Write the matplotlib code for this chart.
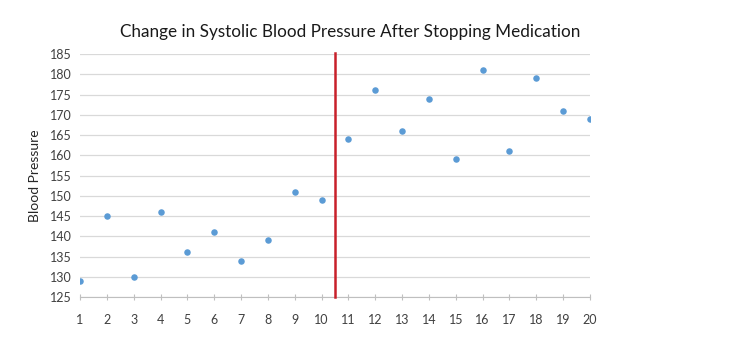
import matplotlib
matplotlib.use("Agg")
import matplotlib.pyplot as plt
from matplotlib.ticker import MultipleLocator

plt.rcParams['font.family'] = ['Lato', 'DejaVu Sans']

days = list(range(1, 21))
pressure = [129, 145, 130, 146, 136, 141, 134, 139, 151, 149,
            164, 176, 166, 174, 159, 181, 161, 179, 171, 169]
stop_day = 10.5
title = "Change in Systolic Blood Pressure After Stopping Medication"
ylabel = "Blood Pressure"

fig = plt.figure(figsize=(7.3, 3.53), dpi=100)
ax = fig.add_axes([80/730, 1-297/353, 510/730, 243/353])

ax.scatter(days, pressure, s=22, color='#5B9BD5', zorder=3, linewidths=0)
ax.axvline(stop_day, ymin=0, ymax=1.005, color='#C8202A', lw=1.8, zorder=4, clip_on=False)

ax.set_xlim(1, 20)
ax.set_ylim(125, 185)
ax.yaxis.set_major_locator(MultipleLocator(5))
ax.xaxis.set_major_locator(MultipleLocator(1))
ax.grid(axis='y', color='#D9D9D9', lw=0.9, zorder=0)
ax.set_axisbelow(True)
for s in ['top', 'right', 'left']:
    ax.spines[s].set_visible(False)
ax.spines['bottom'].set_color('#BFBFBF')
ax.tick_params(axis='y', length=0, labelsize=9, labelcolor='#404040', pad=6)
ax.tick_params(axis='x', length=4, color='#BFBFBF', direction='inout', labelsize=9,
               labelcolor='#404040', pad=10)

ax.set_ylabel(ylabel, fontsize=10, color='#262626', labelpad=6)
fig.text(350/730, 1-32/353, title, ha='center', va='center', fontsize=12.3, color='#1a1a1a')

fig.savefig('out.png', dpi=100)
